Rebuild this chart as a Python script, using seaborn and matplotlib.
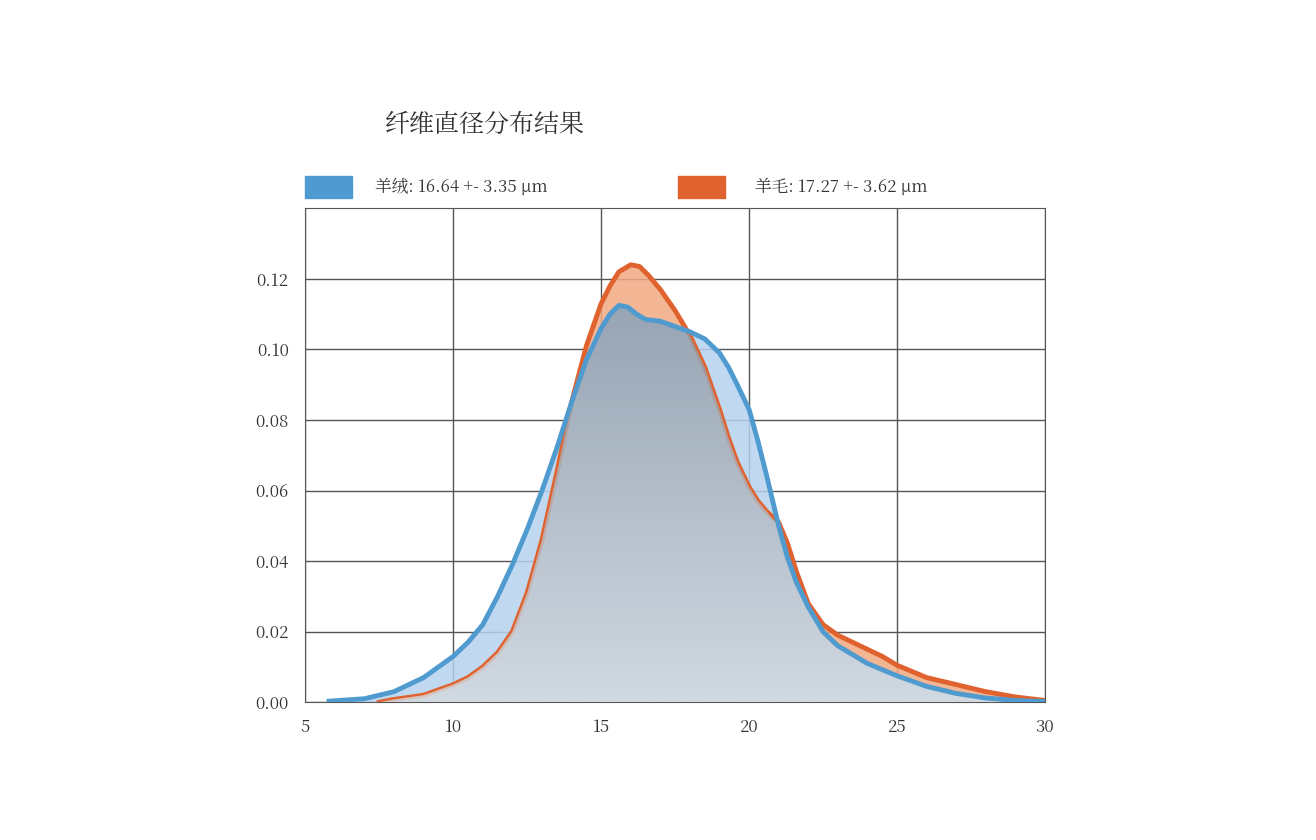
import numpy as np
import pandas as pd
import matplotlib
matplotlib.use("Agg")
import matplotlib.pyplot as plt
import seaborn as sns
from matplotlib.patches import Rectangle
from matplotlib import font_manager as fm

cjk = None
for f in fm.findSystemFonts():
    if "CJK" in f and ("Regular" in f or "SC" in f):
        cjk = f
        break
if cjk:
    fm.fontManager.addfont(cjk)
    cjk_name = fm.FontProperties(fname=cjk).get_name()
    plt.rcParams["font.family"] = [cjk_name, "DejaVu Sans"]

title = "纤维直径分布结果"
label_cashmere = "羊绒: 16.64 +- 3.35 μm"
label_wool = "羊毛: 17.27 +- 3.62 μm"

x_cash = [5.8, 7, 8, 9, 10, 10.5, 11, 11.5, 12, 12.5, 13, 13.5, 14, 14.5, 15, 15.3, 15.6, 15.9, 16.2, 16.5, 17, 17.5, 18, 18.5, 19, 19.3, 19.6, 20, 20.3, 20.6, 21, 21.3, 21.6, 22, 22.5, 23, 24, 25, 26, 27, 28, 29, 30]
y_cash = [0.0003, 0.001, 0.003, 0.007, 0.013, 0.017, 0.022, 0.030, 0.039, 0.049, 0.060, 0.072, 0.085, 0.097, 0.106, 0.110, 0.1125, 0.112, 0.110, 0.1085, 0.108, 0.1065, 0.105, 0.103, 0.099, 0.095, 0.090, 0.083, 0.074, 0.064, 0.050, 0.041, 0.034, 0.027, 0.020, 0.016, 0.011, 0.0075, 0.0045, 0.0025, 0.0012, 0.0005, 0.0002]
x_wool = [7.5, 8, 9, 10, 10.5, 11, 11.5, 12, 12.5, 13, 13.5, 14, 14.5, 15, 15.3, 15.6, 16, 16.3, 16.6, 17, 17.5, 18, 18.5, 19, 19.3, 19.6, 20, 20.3, 20.6, 21, 21.3, 21.6, 22, 22.5, 23, 23.5, 24, 24.5, 25, 26, 27, 28, 29, 30]
y_wool = [0.0, 0.0008, 0.002, 0.005, 0.007, 0.010, 0.014, 0.020, 0.031, 0.046, 0.065, 0.085, 0.101, 0.113, 0.118, 0.122, 0.124, 0.1235, 0.121, 0.117, 0.111, 0.104, 0.095, 0.083, 0.075, 0.068, 0.061, 0.057, 0.054, 0.051, 0.045, 0.037, 0.028, 0.022, 0.019, 0.017, 0.015, 0.013, 0.0105, 0.007, 0.005, 0.003, 0.0015, 0.0005]

blue = "#4f9bd0"
orange = "#e0622e"

fig = plt.figure(figsize=(13.16, 8.4), dpi=100)
fig.patch.set_facecolor("white")
ax = fig.add_axes([0.232, 0.164, 0.562, 0.588])

ax.fill_between(x_wool, y_wool, color="#f2a983", alpha=0.85, lw=0, zorder=1)
ax.fill_between(x_cash, y_cash, color="#b5d3ee", alpha=0.85, lw=0, zorder=1)
sns.lineplot(x=x_wool, y=y_wool, color=orange, lw=3.5, ax=ax, zorder=2)

xs = np.union1d(x_cash, x_wool)
xs = xs[(xs >= 7.5)]
yo = np.minimum(np.interp(xs, x_cash, y_cash), np.interp(xs, x_wool, y_wool))
poly = ax.fill_between(xs, yo, color="none", lw=0, zorder=3)
grad = np.linspace(1, 0, 256).reshape(-1, 1)
cmap = matplotlib.colors.LinearSegmentedColormap.from_list("g", ["#d6dce2", "#8693a2"])
im = ax.imshow(grad, extent=[5, 30, 0, 0.125], aspect="auto", cmap=cmap, origin="upper", zorder=3, alpha=0.8)
im.set_clip_path(poly.get_paths()[0], transform=ax.transData)

sns.lineplot(x=x_cash, y=y_cash, color=blue, lw=3.5, ax=ax, zorder=4)

ax.set_xlim(5, 30)
ax.set_ylim(0, 0.14)
ax.set_xticks([5, 10, 15, 20, 25, 30])
ax.set_yticks([0, 0.02, 0.04, 0.06, 0.08, 0.10, 0.12])
ax.set_yticklabels([f"{v:.2f}" for v in [0, 0.02, 0.04, 0.06, 0.08, 0.10, 0.12]])
ax.grid(True, color="#555555", lw=1.0)
ax.set_axisbelow(True)
for s in ax.spines.values():
    s.set_color("#555555")
ax.tick_params(length=0, labelsize=12, colors="#333333", pad=12)

fig.text(385 / 1316, 1 - 125 / 840, title, fontsize=18, color="#333333", va="center")
fig.patches.append(Rectangle((305 / 1316, 1 - 198 / 840), 47 / 1316, 22 / 840, transform=fig.transFigure, color=blue))
fig.patches.append(Rectangle((678 / 1316, 1 - 198 / 840), 47 / 1316, 22 / 840, transform=fig.transFigure, color=orange))
fig.text(375 / 1316, 1 - 187 / 840, label_cashmere, fontsize=12, color="#333333", va="center")
fig.text(755 / 1316, 1 - 187 / 840, label_wool, fontsize=12, color="#333333", va="center")

fig.savefig("out.png", dpi=100)
